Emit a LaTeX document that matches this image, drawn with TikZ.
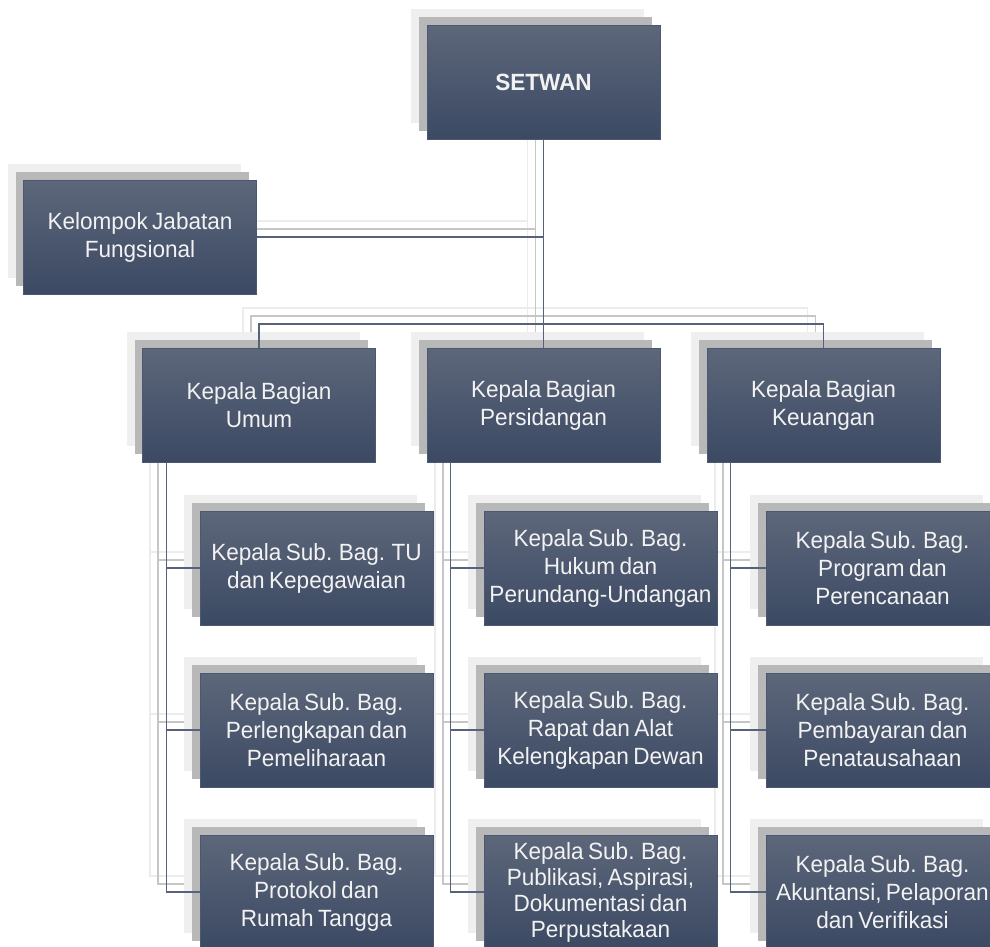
\documentclass[tikz,border=0pt]{standalone}
\usepackage{fontspec}
\setmainfont{Liberation Sans}[FakeStretch=0.96, WordSpace=0.7]
\usetikzlibrary{shadows,backgrounds}
\definecolor{boxtop}{HTML}{5D677A}
\definecolor{boxbot}{HTML}{3B4963}
\definecolor{boxedge}{HTML}{4B5872}
\definecolor{shgray}{HTML}{B8B8B8}
\definecolor{shlight}{HTML}{EFEFEF}
\definecolor{lnmain}{HTML}{56617A}
\definecolor{lngray}{HTML}{C6C6C6}
\definecolor{lnlight}{HTML}{ECECEC}
\tikzset{
  orgbox/.style={rectangle, minimum width=233pt, minimum height=114pt, inner sep=0pt,
    general shadow={fill=shlight, shadow xshift=-16pt, shadow yshift=16pt},
    general shadow={fill=shgray, shadow xshift=-8pt, shadow yshift=8pt},
    top color=boxtop, bottom color=boxbot, draw=boxedge, line width=0.5pt,
    text=white!95!black, align=center, font=\fontsize{23.5}{28}\selectfont},
  conn/.style={draw=lnmain, line width=1.3pt},
  connsh/.style={line width=1.8pt},
}
\newcommand\orgconnectors[1]{%
  \draw[#1] (S.south) -- (P.north);
  \draw[#1] (K.east) -- (K.east -| S.south);
  \draw[#1] (U.north) |- (bus) -| (Ke.north);
  \foreach \b/\s in {U/u,P/p,Ke/k}{
    \draw[#1] ([xshift=24pt]\b.south west) |- (\s3.west);
    \draw[#1] ([xshift=24pt]\b.south west |- \s1.west) -- (\s1.west);
    \draw[#1] ([xshift=24pt]\b.south west |- \s2.west) -- (\s2.west);
  }%
}
\begin{document}
\begin{tikzpicture}[x=1pt,y=-1pt]
\useasboundingbox (0,0) rectangle (990,946);
\clip (0,0) rectangle (990,946);
\node[orgbox] (S) at (543.5,82) {\textbf{SETWAN}};
\node[orgbox] (K) at (140,237) {Kelompok Jabatan\\Fungsional};
\node[orgbox] (U) at (259,405) {Kepala Bagian\\Umum};
\node[orgbox] (P) at (543.5,405) {Kepala Bagian\\Persidangan};
\node[orgbox] (Ke) at (823.5,405) {Kepala Bagian\\Keuangan};
\node[orgbox] (u1) at (316.5,568) {Kepala Sub. Bag. TU\\dan Kepegawaian};
\node[orgbox] (u2) at (316.5,730) {Kepala Sub. Bag.\\Perlengkapan dan\\Pemeliharaan};
\node[orgbox] (u3) at (316.5,892) {Kepala Sub. Bag.\\Protokol dan\\Rumah Tangga};
\node[orgbox] (p1) at (600.5,568) {Kepala Sub. Bag.\\Hukum dan\\Perundang-Undangan};
\node[orgbox] (p2) at (600.5,730) {Kepala Sub. Bag.\\Rapat dan Alat\\Kelengkapan Dewan};
\node[orgbox, font=\fontsize{23.5}{26}\selectfont] (p3) at (600.5,892) {Kepala Sub. Bag.\\Publikasi, Aspirasi,\\Dokumentasi dan\\Perpustakaan};
\node[orgbox] (k1) at (882.5,568) {Kepala Sub. Bag.\\Program dan\\Perencanaan};
\node[orgbox] (k2) at (882.5,730) {Kepala Sub. Bag.\\Pembayaran dan\\Penatausahaan};
\node[orgbox] (k3) at (882.5,892) {Kepala Sub. Bag.\\Akuntansi, Pelaporan\\dan Verifikasi};
\coordinate (bus) at (543.5,324);
\begin{pgfonlayer}{background}
  \begin{scope}[transform canvas={shift={(-16,-16)}}]
    \orgconnectors{connsh, draw=lnlight}
  \end{scope}
  \begin{scope}[transform canvas={shift={(-8,-8)}}]
    \orgconnectors{connsh, draw=lngray}
  \end{scope}
\end{pgfonlayer}
\orgconnectors{conn}
\end{tikzpicture}
\end{document}
